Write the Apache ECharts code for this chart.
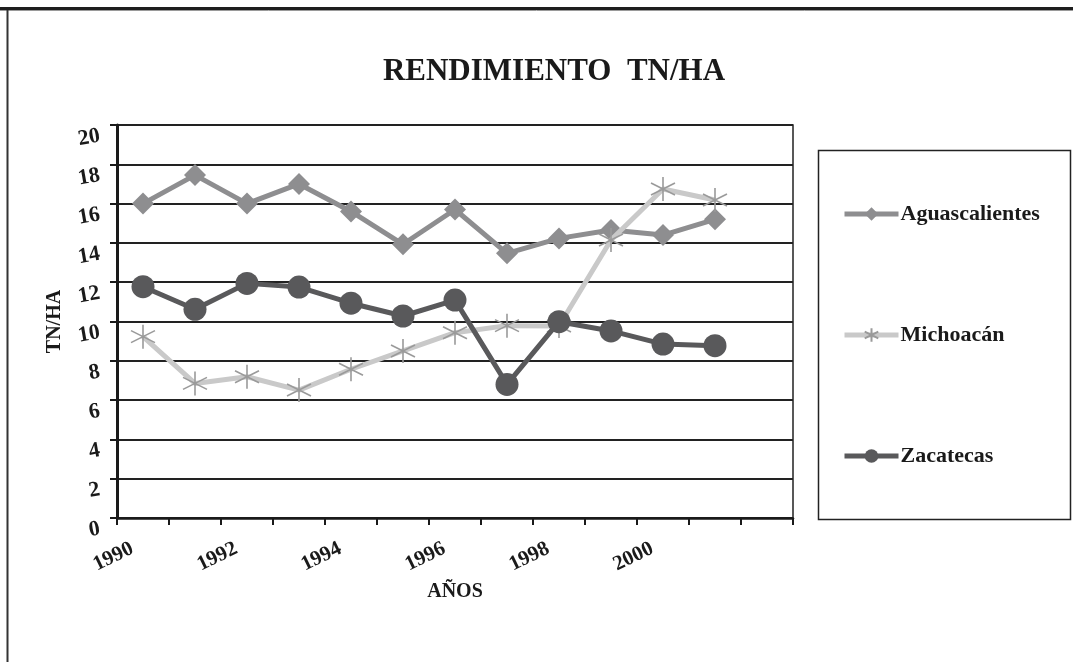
<!DOCTYPE html>
<html>
<head>
<meta charset="utf-8">
<script src="https://cdn.jsdelivr.net/npm/echarts@6/dist/echarts.min.js"></script>
<style>
  html, body { margin: 0; padding: 0; background: #fff; }
  #chart { width: 1073px; height: 662px; }
</style>
</head>
<body>
<div id="chart"></div>
<script>
// Yield per hectare (TN/HA) by state, 1990–2001
const years = ['1990', '1991', '1992', '1993', '1994', '1995', '1996', '1997', '1998', '1999', '2000', '2001'];
const tickLabels = ['1990', '', '1992', '', '1994', '', '1996', '', '1998', '', '2000', '', '', ''];
const aguascalientes = [16.0, 17.45, 16.0, 17.0, 15.6, 13.93, 15.7, 13.47, 14.23, 14.66, 14.4, 15.2];
const michoacan = [9.23, 6.85, 7.19, 6.51, 7.57, 8.5, 9.43, 9.79, 9.77, 14.15, 16.74, 16.18];
const zacatecas = [11.77, 10.62, 11.94, 11.75, 10.93, 10.28, 11.09, 6.8, 9.99, 9.52, 8.85, 8.77];
const yTicks = { min: 0, max: 20, interval: 2 };

const serif = 'Liberation Serif, Times New Roman, serif';
// each year sits in the middle of its band on the 0..13 axis
const toPoints = arr => arr.map((v, i) => [i + 0.5, v]);

const asterisk = 'path://M10 0 L10 20 M1.3 5 L18.7 15 M1.3 15 L18.7 5';

const chart = echarts.init(document.getElementById('chart'), null, { renderer: 'canvas' });
chart.setOption({
  backgroundColor: '#ffffff',
  animation: false,
  title: {
    text: 'RENDIMIENTO  TN/HA',
    left: 549,
    top: 51,
    textAlign: 'center',
    textStyle: { fontFamily: serif, fontWeight: 'bold', fontSize: 31, color: '#1a1a1a' }
  },
  grid: {
    left: 117, top: 125, right: 280, bottom: 144,
    show: true, borderColor: '#222', borderWidth: 1.5, backgroundColor: 'transparent'
  },
  legend: {
    orient: 'vertical',
    left: 837,
    top: 198,
    itemWidth: 54,
    itemHeight: 17,
    itemGap: 99,
    lineStyle: { width: 5 },
    textStyle: { fontFamily: serif, fontWeight: 'bold', fontSize: 22, color: '#1a1a1a', padding: [0, 0, 0, -3] },
    data: ['Aguascalientes', 'Michoacán', 'Zacatecas']
  },
  xAxis: {
    type: 'value',
    min: 0, max: 13, interval: 1,
    name: 'AÑOS',
    nameLocation: 'middle',
    nameGap: 63,
    nameTextStyle: { fontFamily: serif, fontWeight: 'bold', fontSize: 20, color: '#1a1a1a' },
    axisLine: { show: true, onZero: false, lineStyle: { color: '#1a1a1a', width: 2.5 } },
    axisTick: { show: true, length: 7, lineStyle: { color: '#1a1a1a', width: 2 } },
    splitLine: { show: false },
    axisLabel: {
      show: true,
      rotate: 26,
      margin: 37,
      align: 'center',
      verticalAlign: 'middle',
      padding: [0, 8, 0, 0],
      fontFamily: serif, fontWeight: 'bold', fontSize: 21, color: '#1a1a1a',
      formatter: v => tickLabels[Math.round(v)] || ''
    }
  },
  yAxis: {
    type: 'value',
    min: yTicks.min, max: yTicks.max, interval: yTicks.interval,
    name: 'TN/HA',
    nameLocation: 'middle',
    nameRotate: 90,
    nameGap: 52,
    nameTextStyle: { fontFamily: serif, fontWeight: 'bold', fontSize: 20, color: '#1a1a1a' },
    axisLine: { show: true, lineStyle: { color: '#1a1a1a', width: 3 } },
    axisTick: { show: true, length: 7, lineStyle: { color: '#1a1a1a', width: 2 } },
    splitLine: { show: true, lineStyle: { color: '#222', width: 2 } },
    axisLabel: {
      rotate: 10,
      margin: 19,
      verticalAlign: 'top',
      fontFamily: serif, fontWeight: 'bold', fontSize: 22, color: '#1a1a1a'
    }
  },
  series: [
    {
      name: 'Aguascalientes',
      type: 'line',
      data: toPoints(aguascalientes),
      symbol: 'diamond',
      symbolSize: 22,
      lineStyle: { color: '#8e8e90', width: 5 },
      itemStyle: { color: '#8e8e90' },
      z: 2
    },
    {
      name: 'Michoacán',
      type: 'line',
      data: toPoints(michoacan),
      symbol: asterisk,
      symbolSize: 24,
      lineStyle: { color: '#c9c9c9', width: 5 },
      itemStyle: { color: 'rgba(0,0,0,0)', borderColor: '#9a9a9a', borderWidth: 1.6 },
      z: 3
    },
    {
      name: 'Zacatecas',
      type: 'line',
      data: toPoints(zacatecas),
      symbol: 'circle',
      symbolSize: 23,
      lineStyle: { color: '#59595b', width: 5 },
      itemStyle: { color: '#59595b' },
      z: 4
    }
  ],
  graphic: [
    // page frame: heavy rule along the top, thin rule down the left
    { type: 'line', shape: { x1: 0, y1: 8.5, x2: 1073, y2: 8.5 }, style: { stroke: '#1e1e1e', lineWidth: 3 }, silent: true },
    { type: 'line', shape: { x1: 0, y1: 10.5, x2: 1073, y2: 10.5 }, style: { stroke: '#9a9a9a', lineWidth: 1 }, silent: true },
    { type: 'line', shape: { x1: 7.5, y1: 10, x2: 7.5, y2: 662 }, style: { stroke: '#333', lineWidth: 2 }, silent: true },
    // legend box
    { type: 'rect', shape: { x: 818.5, y: 150.5, width: 252, height: 369 }, style: { fill: 'none', stroke: '#222', lineWidth: 1.5 }, silent: true, z: -1 }
  ]
});
</script>
</body>
</html>
